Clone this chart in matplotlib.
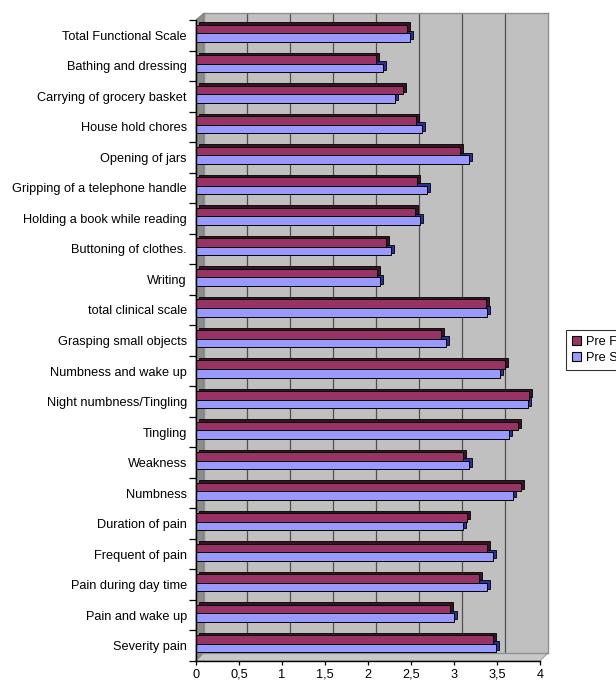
import matplotlib.pyplot as plt
import numpy as np
from matplotlib.patches import Patch, Polygon

plt.rcParams['font.family'] = ['Liberation Sans', 'DejaVu Sans']

# data (top to bottom)
categories = [
    "Total Functional Scale", "Bathing and dressing", "Carrying of grocery basket",
    "House hold chores", "Opening of jars", "Gripping of a telephone handle",
    "Holding a book while reading", "Buttoning of clothes.", "Writing",
    "total clinical scale", "Grasping small objects", "Numbness and wake up",
    "Night numbness/Tingling", "Tingling", "Weakness", "Numbness",
    "Duration of pain", "Frequent of pain", "Pain during day time",
    "Pain and wake up", "Severity pain",
]
pre_f = [2.45, 2.09, 2.41, 2.56, 3.07, 2.57, 2.55, 2.21, 2.11, 3.37, 2.85,
         3.59, 3.87, 3.74, 3.10, 3.78, 3.15, 3.38, 3.29, 2.95, 3.45]
pre_s = [2.49, 2.18, 2.31, 2.63, 3.18, 2.69, 2.61, 2.27, 2.14, 3.38, 2.91,
         3.54, 3.86, 3.64, 3.17, 3.69, 3.11, 3.45, 3.38, 3.00, 3.49]
series_names = ["Pre F", "Pre S"]
xticks = [0, 0.5, 1, 1.5, 2, 2.5, 3, 3.5, 4]
xticklabels = ["0", "0,5", "1", "1,5", "2", "2,5", "3", "3,5", "4"]

W, H = 616, 682
fig = plt.figure(figsize=(W / 100, H / 100), dpi=100)

def fx(px):
    return px / W

def fy(py):
    return 1 - py / H

# back wall
back = fig.add_axes([fx(204), fy(653), fx(548) - fx(204), fy(13) - fy(653)])
back.set_facecolor('#c0c0c0')
back.set_xlim(0, 4)
back.set_xticks(xticks[1:-1])
back.set_yticks([])
back.grid(axis='x', color='#505050', lw=0.9)
back.tick_params(length=0, labelbottom=False)
for s in back.spines.values():
    s.set_color('#909090')
    s.set_linewidth(1.0)

# left wall and floor
fig.patches.append(Polygon([(fx(196), fy(661)), (fx(196), fy(20)), (fx(204), fy(13)), (fx(204), fy(653))],
                           closed=True, transform=fig.transFigure, facecolor='#8c8c8c',
                           edgecolor='#707070', lw=0.6, zorder=-1))
fig.patches.append(Polygon([(fx(196), fy(661)), (fx(540), fy(661)), (fx(548), fy(653)), (fx(204), fy(653))],
                           closed=True, transform=fig.transFigure, facecolor='#c8c8c8',
                           edgecolor='#909090', lw=0.6, zorder=-1))

# front axes with the bars
ax = fig.add_axes([fx(196), fy(661), fx(540) - fx(196), fy(20) - fy(661)])
ax.patch.set_alpha(0)
y = np.arange(len(categories))
h = 0.28
dx, dy = 0.035, 0.08
yf = y - 0.065 - h / 2
ys = y - 0.065 + h / 2

# depth faces (drawn behind the front faces)
ax.barh(ys - dy, pre_s, left=dx, height=h, color='#2e2e99', edgecolor='black', lw=0.6)
ax.barh(yf - dy, pre_f, left=dx, height=h, color='#3a1226', edgecolor='black', lw=0.6)
# front faces
ax.barh(ys, pre_s, height=h, color='#9999ff', edgecolor='black', lw=0.7)
ax.barh(yf, pre_f, height=h, color='#993366', edgecolor='black', lw=0.7)

ax.set_xlim(0, 4)
ax.set_ylim(len(categories) - 0.5, -0.5)
ax.set_xticks(xticks)
ax.set_xticklabels(xticklabels, fontsize=9.2)
ax.set_yticks(y)
ax.set_yticklabels(categories, fontsize=9.2)
ax.set_yticks(np.arange(len(categories) + 1) - 0.5, minor=True)
ax.tick_params(axis='y', which='major', length=0, pad=6.5)
ax.tick_params(axis='y', which='minor', length=5, width=0.9, direction='out')
ax.tick_params(axis='x', length=3, width=0.9, direction='out', pad=2.5)
for side in ['top', 'right']:
    ax.spines[side].set_visible(False)
ax.spines['left'].set_linewidth(1.0)
ax.spines['bottom'].set_linewidth(1.0)

# legend
handles = [Patch(facecolor='#993366', edgecolor='black', lw=0.8),
           Patch(facecolor='#9999ff', edgecolor='black', lw=0.8)]
leg = fig.legend(handles, series_names, loc='upper left', bbox_to_anchor=(fx(566), fy(330)),
                 fontsize=9.2, frameon=True, fancybox=False, handlelength=0.7, handleheight=0.7,
                 handletextpad=0.4, borderpad=0.45, labelspacing=0.35, borderaxespad=0)
leg.get_frame().set_edgecolor('black')
leg.get_frame().set_linewidth(0.8)

fig.savefig('out.png', dpi=100)
